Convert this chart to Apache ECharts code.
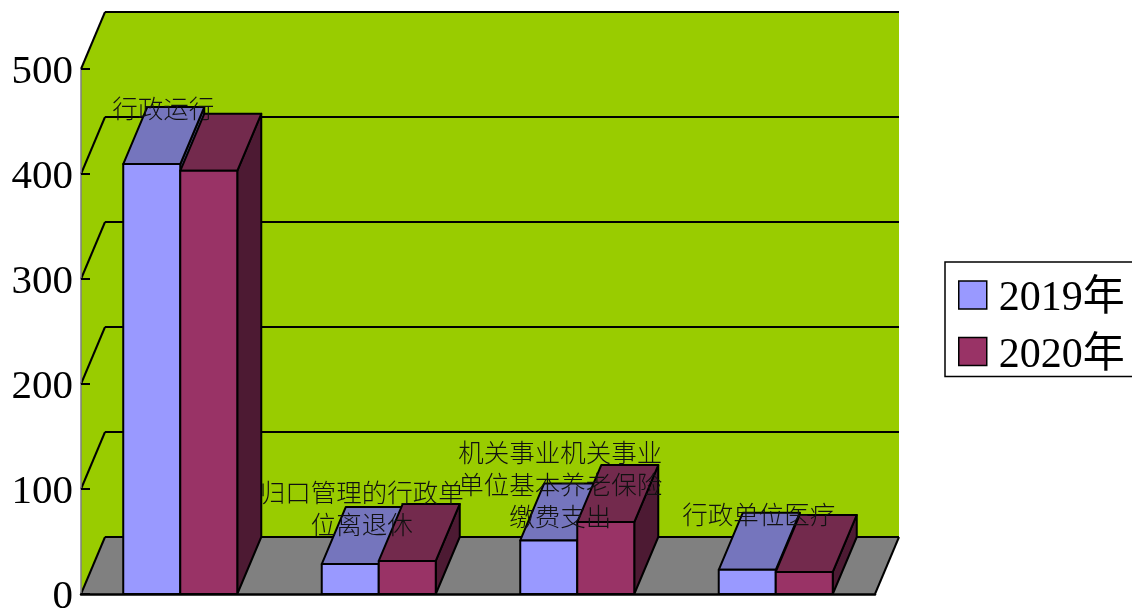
<!DOCTYPE html>
<html><head><meta charset="utf-8">
<style>html,body{margin:0;padding:0;background:#fff}#c{width:1132px;height:610px}</style>
<script src="https://cdn.jsdelivr.net/npm/echarts@6/dist/echarts.min.js"></script>
</head><body><div id="c"></div>
<script>
var categories = ['行政运行','归口管理的行政单\n位离退休','机关事业机关事业\n单位基本养老保险\n缴费支出','行政单位医疗'];
var values2019 = [409.5, 28.5, 51, 23];
var values2020 = [403, 31.5, 68.5, 21];
var tickValues = [0, 100, 200, 300, 400, 500];
var seriesNames = ['2019年', '2020年'];

var DX = 24, DY = 57, LW = 2;
var FACE = [
  {front:'#9999FF', top:'#7575BD', side:'#4D4D80'},
  {front:'#993366', top:'#732A4D', side:'#4D1A33'}
];
function poly(points, fill, stroke, w){
  return {type:'polygon', shape:{points:points}, style:{fill:fill, stroke:stroke||null, lineWidth:w||0, lineJoin:'round'}};
}
function line(x1,y1,x2,y2,w){
  return {type:'line', shape:{x1:x1,y1:y1,x2:x2,y2:y2}, style:{stroke:'#000', lineWidth:w||LW}};
}
function wallRender(params, api){
  var g = params.coordSys, x0=g.x, x1=g.x+g.width, yb=g.y+g.height, yt=g.y;
  return {type:'group', children:[
    poly([[x0,yt],[x0+DX,yt-DY],[x1+DX,yt-DY],[x1+DX,yb-DY],[x0+DX,yb-DY],[x0,yb]], '#99CC00'),
    poly([[x0,yb],[x0+DX,yb-DY],[x1+DX,yb-DY],[x1,yb]], '#808080')
  ]};
}
function gridRender(params, api){
  var g = params.coordSys, v = api.value(0);
  var y = api.coord([0, v])[1], x0=g.x, x1=g.x+g.width;
  var kids = [line(x0,y,x0+DX,y-DY), line(x0+DX,y-DY,x1+DX,y-DY)];
  if (v === 0) kids.push(line(x1,y,x1+DX,y-DY));
  return {type:'group', children:kids};
}
function barRender(idx){
  return function(params, api){
    var c = api.coord([api.value(0), api.value(1)]);
    var base = api.coord([api.value(0), 0]);
    var w = api.size([1,0])[0]*0.2872;
    var xl = c[0] + (idx-1)*w, xr = xl+w, yt=c[1], yb=base[1], f=FACE[idx];
    return {type:'group', children:[
      poly([[xr,yb],[xr+DX,yb-DY],[xr+DX,yt-DY],[xr,yt]], f.side,'#000',LW),
      poly([[xl,yt],[xl+DX,yt-DY],[xr+DX,yt-DY],[xr,yt]], f.top,'#000',LW),
      poly([[xl,yb],[xl,yt],[xr,yt],[xr,yb]], f.front,'#000',LW)
    ]};
  };
}
function labelRender(params, api){
  var i = api.value(0), c = api.coord([i, api.value(1)]);
  return {type:'text', style:{
    text: categories[i], x:c[0]-17, y:c[1]-56, align:'center', verticalAlign:'middle',
    font:'300 25.5px "Noto Sans CJK SC"', lineHeight:32, fill:'#111'
  }};
}
function rows(arr){ return arr.map(function(v,i){return [i,v];}); }

var chart = echarts.init(document.getElementById('c'), null, {renderer:'canvas'});
chart.setOption({
  animation:false,
  backgroundColor:'#fff',
  grid:{left:81, right:257, top:69, bottom:16, containLabel:false, outerBoundsMode:'none'},
  xAxis:{type:'category', data:categories, z:6,
    axisLine:{lineStyle:{color:'#000', width:2.5}}, axisTick:{show:false}, axisLabel:{show:false}, splitLine:{show:false}},
  yAxis:{type:'value', min:0, max:500, interval:100, z:6,
    axisLine:{show:true, lineStyle:{color:'#808080', width:1.5}},
    axisTick:{show:true, inside:true, length:9, lineStyle:{color:'#000', width:2}},
    axisLabel:{show:true, margin:8, color:'#000', fontSize:41, verticalAlign:'top', lineHeight:6, fontFamily:'"Liberation Serif"'},
    splitLine:{show:false}},
  legend:{show:true, data:seriesNames, orient:'vertical', left:945, top:262,
    padding:[16,9,0,13], itemWidth:28, itemHeight:28, itemGap:14.5,
    backgroundColor:'#fff', borderColor:'#000', borderWidth:1.5, icon:'rect',
    itemStyle:{borderColor:'#000', borderWidth:1.5},
    formatter:function(n){return '{a|'+n+'}';},
    textStyle:{color:'#000', rich:{a:{color:'#000', fontSize:42, padding:[8,0,0,7], fontFamily:'"Liberation Serif","Noto Sans CJK SC"'}}}},
  series:[
    {type:'custom', name:'wall', z:1, silent:true, data:[[0]], renderItem:wallRender},
    {type:'custom', name:'gridlines', z:2, silent:true, data:tickValues.map(function(v){return [v];}), encode:{y:0}, renderItem:gridRender},
    {type:'custom', name:seriesNames[0], z:3, silent:true, itemStyle:{color:FACE[0].front}, data:rows(values2019), renderItem:barRender(0)},
    {type:'custom', name:seriesNames[1], z:4, silent:true, itemStyle:{color:FACE[1].front}, data:rows(values2020), renderItem:barRender(1)},
    {type:'custom', name:'labels', z:7, silent:true, data:rows(values2019), renderItem:labelRender}
  ]
});
</script></body></html>
